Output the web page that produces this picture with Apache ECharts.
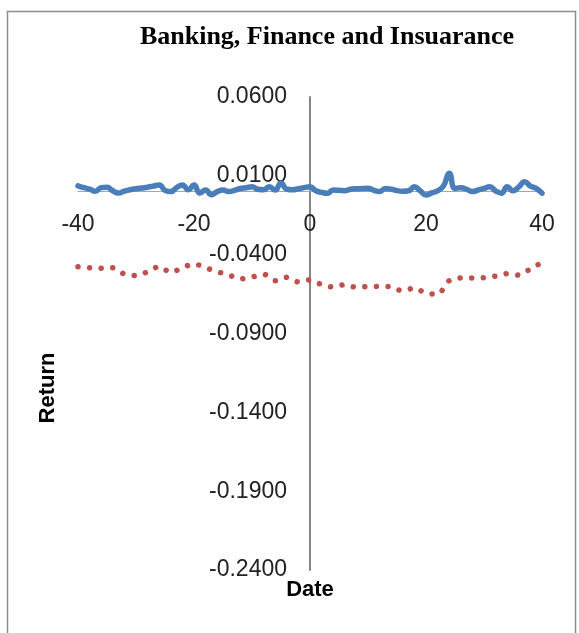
<!DOCTYPE html>
<html>
<head>
<meta charset="utf-8">
<script src="https://cdn.jsdelivr.net/npm/echarts@6/dist/echarts.min.js"></script>
<style>
html,body{margin:0;padding:0;background:#fff;}
#chart{width:579px;height:633px;}
</style>
</head>
<body>
<div id="chart"></div>
<script>
// ---- data ----
var titleText = "Banking, Finance and Insuarance";
var xAxisName = "Date";
var yAxisName = "Return";

var blueX = [-40,-39,-38,-37,-36,-35,-34,-33,-32,-31,-30,-29,-28,-27,-26,-25,-24,-23,-22,-21,-20,-19,-18,-17,-16,-15,-14,-13,-12,-11,-10,-9,-8,-7,-6,-5,-4,-3,-2,-1,0,1,2,3,4,5,6,7,8,9,10,11,12,13,14,15,16,17,18,19,20,21,22,23,24,25,26,27,28,29,30,31,32,33,34,35,36,37,38,39,40];
var blueY = [0.0036,0.0025,0.0015,0.0002,0.0025,0.0028,0.0005,-0.0009,0.0003,0.0012,0.0018,0.0023,0.0028,0.0035,0.0042,0.0008,0.0000,0.0025,0.0042,0.0012,0.0042,-0.0009,0.0010,-0.0020,0.0000,0.0010,0.0000,0.0008,0.0020,0.0025,0.0030,0.0015,0.0012,0.0030,0.0010,0.0055,0.0015,0.0012,0.0018,0.0025,0.0031,0.0005,-0.0005,-0.0010,0.0010,0.0008,0.0006,0.0015,0.0018,0.0020,0.0021,0.0008,0.0000,0.0020,0.0015,0.0006,0.0002,0.0005,0.0031,0.0005,-0.0022,-0.0008,0.0005,0.0035,0.0116,0.0020,0.0025,0.0015,0.0000,0.0010,0.0020,0.0031,0.0005,-0.0010,0.0030,0.0005,0.0030,0.0063,0.0035,0.0020,-0.0010];

var redX = [-40,-38,-36,-34,-32,-30,-28,-26,-24,-22,-20,-18,-16,-14,-12,-10,-8,-6,-4,-2,0,2,4,6,8,10,12,14,16,18,20,22,24,26,28,30,32,34,36,38,40];
var redY = [-0.0476,-0.0483,-0.0486,-0.0483,-0.0524,-0.0533,-0.0508,-0.0476,-0.0512,-0.0483,-0.0459,-0.0483,-0.0508,-0.0529,-0.0554,-0.0542,-0.0524,-0.0565,-0.0543,-0.0573,-0.0560,-0.0590,-0.0605,-0.0590,-0.0607,-0.0603,-0.0601,-0.0605,-0.0630,-0.0612,-0.0645,-0.0650,-0.0565,-0.0548,-0.0548,-0.0546,-0.0536,-0.0520,-0.0530,-0.0490,-0.0450];

var xMin = -40, xMax = 40, xStep = 20;
var yMin = -0.24, yMax = 0.06, yStep = 0.05;

function pairs(xs, ys){ return xs.map(function(x,i){ return [x, ys[i]]; }); }

var W = 579, H = 633;
var G = {left: 78, right: 37, top: 97, bottom: 63};
var gW = W - G.left - G.right, gH = H - G.top - G.bottom;
// place each axis (line + labels) where the other axis has value 0
var yAxisOffset = -((0 - xMin) / (xMax - xMin)) * gW;
var xAxisOffset = -((0 - yMin) / (yMax - yMin)) * gH;

var chart = echarts.init(document.getElementById('chart'), null, {renderer:'canvas'});
chart.setOption({
  animation: false,
  backgroundColor: '#ffffff',
  title: {
    text: titleText,
    left: 322, top: 19, textAlign: 'center',
    textStyle: {fontFamily: '"Liberation Serif", serif', fontWeight: 'bold', fontSize: 26, color: '#000'}
  },
  grid: {left: G.left, right: G.right, top: G.top, bottom: G.bottom, containLabel: false, outerBoundsMode: 'none'},
  xAxis: {
    type: 'value', min: xMin, max: xMax, interval: xStep,
    position: 'bottom', offset: xAxisOffset,
    axisLine: {show: true, onZero: false, lineStyle: {color: '#a6a6a6', width: 1.2}},
    axisTick: {show: false},
    splitLine: {show: false},
    axisLabel: {margin: 22, color: '#222', fontSize: 23, fontFamily: '"Liberation Sans", Arial, sans-serif'}
  },
  yAxis: {
    type: 'value', min: yMin, max: yMax, interval: yStep,
    position: 'left', offset: yAxisOffset,
    axisLine: {show: true, onZero: false, lineStyle: {color: '#868686', width: 2}},
    axisTick: {show: false},
    splitLine: {show: false},
    axisLabel: {margin: 23, color: '#222', fontSize: 23, fontFamily: '"Liberation Sans", Arial, sans-serif',
      formatter: function(v){ return v.toFixed(4); }}
  },
  graphic: [
    {type: 'rect', shape: {x: 7.5, y: 11.5, width: 568, height: 640}, style: {fill: 'none', stroke: '#8c8c8c', lineWidth: 1.5}, silent: true},
    {type: 'text', x: 48, y: 388, rotation: Math.PI/2, style: {text: yAxisName, font: 'bold 22px "Liberation Sans", Arial, sans-serif', fill: '#000', textAlign: 'center', textVerticalAlign: 'middle'}},
    {type: 'text', x: 310, y: 590, style: {text: xAxisName, font: 'bold 22px "Liberation Sans", Arial, sans-serif', fill: '#000', textAlign: 'center', textVerticalAlign: 'middle'}}
  ],
  series: [
    {type: 'line', data: pairs(redX, redY), smooth: 0.3, showSymbol: false, z: 3,
      lineStyle: {color: '#c0504d', width: 5.5, type: [0.01, 11.6], cap: 'round'}},
    {type: 'line', data: pairs(blueX, blueY), smooth: true, showSymbol: false, z: 4,
      lineStyle: {color: '#4a7ebb', width: 5.5, cap: 'round', join: 'round'}}
  ]
});
</script>
</body>
</html>
